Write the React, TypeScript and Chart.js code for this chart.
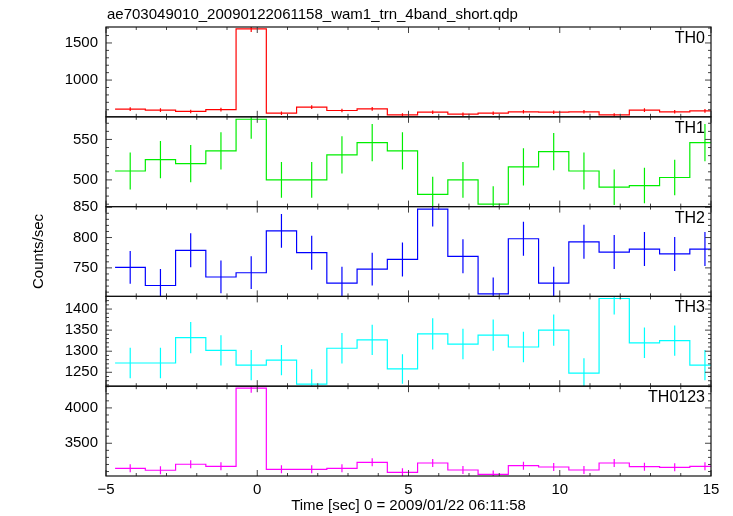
import { useEffect, useRef } from 'react';
import { Chart, registerables } from 'chart.js';

Chart.register(...registerables);

const TITLE = 'ae703049010_20090122061158_wam1_trn_4band_short.qdp';
const X_TITLE = 'Time [sec] 0 = 2009/01/22 06:11:58';
const Y_TITLE = 'Counts/sec';

const binCenters = [-4.2, -3.2, -2.2, -1.2, -0.2, 0.8, 1.8, 2.8, 3.8, 4.8, 5.8, 6.8, 7.8, 8.8, 9.8, 10.8, 11.8, 12.8, 13.8, 14.8];
const binHalfWidth = 0.5;

const panelNames = ['TH0', 'TH1', 'TH2', 'TH3', 'TH0123'];
const panelColors = ['#ff0000', '#00ee00', '#0000ff', '#00ffff', '#ff00ff'];

const th0 = [608, 595, 577, 603, 1689, 554, 635, 590, 612, 531, 567, 540, 554, 572, 567, 572, 531, 595, 572, 585];
const th0Err = [25, 24, 24, 25, 41, 24, 25, 24, 25, 23, 24, 23, 24, 24, 24, 24, 23, 24, 24, 24];
const th1 = [511, 525, 520, 536, 575, 500, 500, 531, 546, 536, 482, 500, 470, 516, 535, 511, 491, 493, 503, 546];
const th1Err = [23, 23, 23, 23, 24, 22, 22, 23, 23, 23, 22, 22, 22, 23, 23, 23, 22, 22, 22, 23];
const th2 = [751, 721, 779, 735, 742, 811, 775, 725, 748, 764, 847, 769, 707, 798, 725, 793, 776, 781, 773, 781];
const th2Err = [27, 27, 28, 27, 27, 28, 28, 27, 27, 28, 29, 28, 27, 28, 27, 28, 28, 28, 28, 28];
const th3 = [1272, 1272, 1332, 1302, 1267, 1279, 1222, 1307, 1327, 1258, 1341, 1317, 1338, 1310, 1350, 1248, 1425, 1320, 1325, 1267];
const th3Err = [36, 36, 37, 36, 36, 36, 35, 36, 36, 35, 37, 36, 37, 36, 37, 35, 38, 36, 36, 36];
const th0123 = [3146, 3118, 3203, 3174, 4279, 3132, 3132, 3146, 3231, 3089, 3221, 3122, 3061, 3183, 3164, 3122, 3221, 3169, 3160, 3174];
const th0123Err = [56, 56, 57, 56, 65, 56, 56, 56, 57, 56, 57, 56, 55, 56, 56, 56, 57, 56, 56, 56];

const panelValues = [th0, th1, th2, th3, th0123];
const panelErrors = [th0Err, th1Err, th2Err, th3Err, th0123Err];
const yMins = [505, 467, 703, 1217, 3037];
const yMaxs = [1715, 578, 851, 1430, 4307];
const th0Ticks = [1000, 1500];
const th1Ticks = [500, 550];
const th2Ticks = [750, 800, 850];
const th3Ticks = [1250, 1300, 1350, 1400];
const th0123Ticks = [3500, 4000];
const yTickLabels = [th0Ticks, th1Ticks, th2Ticks, th3Ticks, th0123Ticks];
const yMajor = [500, 50, 50, 50, 500];
const yMinor = [100, 10, 10, 10, 100];

const xMin = -5;
const xMax = 15;
const xTicks = [-5, 0, 5, 10, 15];
const xMajor = 5;
const xMinor = 1;

const FONT = '"Liberation Sans", Arial, Helvetica, sans-serif';

function stepPoints(values: number[]) {
  const pts: { x: number; y: number }[] = [];
  binCenters.forEach((c, i) => {
    pts.push({ x: c - binHalfWidth, y: values[i] });
    pts.push({ x: c + binHalfWidth, y: values[i] });
  });
  return pts;
}

const qdpPlugin = {
  id: 'qdpPlugin',
  afterDatasetsDraw(chart: any) {
    const ctx = chart.ctx;
    const xs = chart.scales.x;
    const area = chart.chartArea;
    panelNames.forEach((_, i) => {
      const ys = chart.scales['y' + i];
      ctx.save();
      ctx.beginPath();
      ctx.rect(area.left, ys.top, area.right - area.left, ys.bottom - ys.top);
      ctx.clip();
      ctx.strokeStyle = panelColors[i];
      ctx.lineWidth = 1.2;
      ctx.beginPath();
      binCenters.forEach((c, j) => {
        const x = xs.getPixelForValue(c);
        ctx.moveTo(x, ys.getPixelForValue(panelValues[i][j] - panelErrors[i][j]));
        ctx.lineTo(x, ys.getPixelForValue(panelValues[i][j] + panelErrors[i][j]));
      });
      ctx.stroke();
      ctx.restore();
    });
  },
  afterDraw(chart: any) {
    const ctx = chart.ctx;
    const xs = chart.scales.x;
    const area = chart.chartArea;
    ctx.save();
    ctx.strokeStyle = '#444';
    ctx.lineWidth = 1;
    ctx.beginPath();
    panelNames.forEach((_, i) => {
      const ys = chart.scales['y' + i];
      const mn = yMins[i];
      const mx = yMaxs[i];
      for (let v = Math.ceil(mn / yMinor[i]) * yMinor[i]; v <= mx; v += yMinor[i]) {
        const y = ys.getPixelForValue(v);
        const len = v % yMajor[i] === 0 ? 6 : 3;
        ctx.moveTo(area.left, y);
        ctx.lineTo(area.left + len, y);
        ctx.moveTo(area.right, y);
        ctx.lineTo(area.right - len, y);
      }
      for (let t = xMin; t <= xMax; t += xMinor) {
        const x = xs.getPixelForValue(t);
        const len = t % xMajor === 0 ? 6 : 3;
        ctx.moveTo(x, ys.top);
        ctx.lineTo(x, ys.top + len);
        ctx.moveTo(x, ys.bottom);
        ctx.lineTo(x, ys.bottom - len);
      }
    });
    ctx.stroke();
    ctx.strokeStyle = '#111';
    ctx.lineWidth = 1.2;
    panelNames.forEach((_, i) => {
      const ys = chart.scales['y' + i];
      ctx.strokeRect(area.left, ys.top, area.right - area.left, ys.bottom - ys.top);
    });
    ctx.fillStyle = '#000';
    ctx.font = '16px ' + FONT;
    ctx.textAlign = 'right';
    ctx.textBaseline = 'alphabetic';
    panelNames.forEach((name, i) => {
      const ys = chart.scales['y' + i];
      ctx.fillText(name, area.right - 6, ys.top + 16);
    });
    ctx.font = '15px ' + FONT;
    ctx.textAlign = 'left';
    ctx.fillText(TITLE, area.left + 1, 19);
    ctx.restore();
  },
};

export default function App() {
  const ref = useRef<HTMLCanvasElement | null>(null);
  useEffect(() => {
    if (!ref.current) return;
    const scales: any = {
      x: {
        type: 'linear',
        position: 'bottom',
        min: xMin,
        max: xMax,
        afterFit: (s: any) => {
          s.height = 40;
        },
        afterBuildTicks: (s: any) => {
          s.ticks = xTicks.map((v) => ({ value: v }));
        },
        grid: { display: false, drawTicks: false },
        border: { display: false },
        ticks: {
          autoSkip: false,
          padding: 5,
          color: '#000',
          font: { family: FONT, size: 15 },
          callback: (v: any) => (v < 0 ? '\u2212' + Math.abs(v) : String(v)),
        },
        title: {
          display: true,
          text: X_TITLE,
          color: '#000',
          font: { family: FONT, size: 15 },
          padding: { top: 0, bottom: 1 },
        },
      },
    };
    panelNames.forEach((_, i) => {
      scales['y' + i] = {
        type: 'linear',
        position: 'left',
        stack: 'panels',
        stackWeight: 1,
        weight: 10 - i,
        min: yMins[i],
        max: yMaxs[i],
        afterFit: (s: any) => {
          s.width = 106;
        },
        afterBuildTicks: (s: any) => {
          s.ticks = yTickLabels[i].map((v) => ({ value: v }));
        },
        grid: { display: false, drawTicks: false },
        border: { display: false },
        ticks: {
          autoSkip: false,
          padding: 8,
          color: '#000',
          font: { family: FONT, size: 15 },
          callback: (v: any) => String(v),
        },
        title: {
          display: i === 2,
          text: Y_TITLE,
          color: '#000',
          font: { family: FONT, size: 15 },
          padding: { top: 30, bottom: 0 },
        },
      };
    });
    const chart = new Chart(ref.current, {
      type: 'line',
      data: {
        datasets: panelNames.map((name, i) => ({
          label: name,
          data: stepPoints(panelValues[i]),
          xAxisID: 'x',
          yAxisID: 'y' + i,
          borderColor: panelColors[i],
          borderWidth: 1.2,
          pointRadius: 0,
          tension: 0,
          fill: false,
          clip: 0,
        })),
      },
      options: {
        animation: false,
        responsive: false,
        devicePixelRatio: 1,
        layout: { padding: { top: 27, left: 0, right: 22, bottom: 0 } },
        plugins: { legend: { display: false }, tooltip: { enabled: false }, title: { display: false } },
        scales,
      },
      plugins: [qdpPlugin],
    } as any);
    return () => chart.destroy();
  }, []);
  return (
    <div style={{ position: 'fixed', left: 0, top: 0, width: 733, height: 516, background: '#fff' }}>
      <canvas ref={ref} width={733} height={516} />
    </div>
  );
}
